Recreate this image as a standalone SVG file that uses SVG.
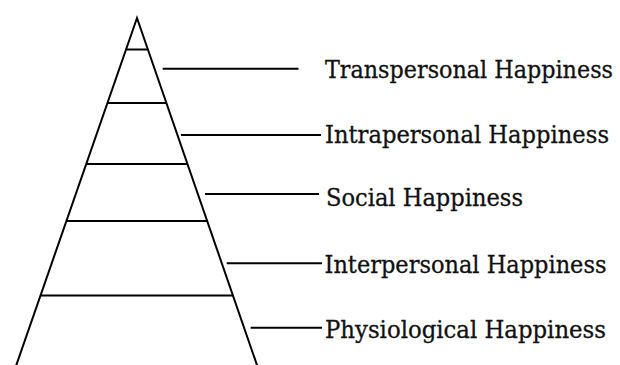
<svg xmlns="http://www.w3.org/2000/svg" width="620" height="365" viewBox="0 0 620 365">
<style>
.ln{stroke:#000;stroke-width:2;fill:none;stroke-linecap:butt}
.lbl{font-family:"DejaVu Serif","Liberation Serif",serif;font-size:23.5px;fill:#111;stroke:#111;stroke-width:0.3}
</style>
<rect width="620" height="365" fill="#fff"/>
<g id="pyramid">
<polyline class="ln" points="15.3,368 137,18 258,368" stroke-linejoin="miter"/>
<line class="ln" x1="126" y1="49.5" x2="148" y2="49.5"/>
<line class="ln" x1="107.4" y1="103" x2="166.3" y2="103"/>
<line class="ln" x1="86.2" y1="164" x2="187.3" y2="164"/>
<line class="ln" x1="66.4" y1="221" x2="207" y2="221"/>
<line class="ln" x1="40.5" y1="295.5" x2="232.7" y2="295.5"/>
</g>
<g id="connectors">
<line class="ln" x1="162.7" y1="68.7" x2="298.5" y2="68.7"/>
<line class="ln" x1="181" y1="135" x2="321" y2="135"/>
<line class="ln" x1="205" y1="194" x2="319" y2="194"/>
<line class="ln" x1="226.7" y1="263.3" x2="322" y2="263.3"/>
<line class="ln" x1="250.7" y1="327.7" x2="322" y2="327.7"/>
</g>
<g id="transpersonal"><text class="lbl" x="325" y="77.5" textLength="288" lengthAdjust="spacingAndGlyphs">Transpersonal Happiness</text></g>
<g id="intrapersonal"><text class="lbl" x="325" y="142.5" textLength="284" lengthAdjust="spacingAndGlyphs">Intrapersonal Happiness</text></g>
<g id="social"><text class="lbl" x="326" y="206" textLength="197" lengthAdjust="spacingAndGlyphs">Social Happiness</text></g>
<g id="interpersonal"><text class="lbl" x="324.5" y="272.5" textLength="282" lengthAdjust="spacingAndGlyphs">Interpersonal Happiness</text></g>
<g id="physiological"><text class="lbl" x="325" y="337.5" textLength="281" lengthAdjust="spacingAndGlyphs">Physiological Happiness</text></g>
</svg>
